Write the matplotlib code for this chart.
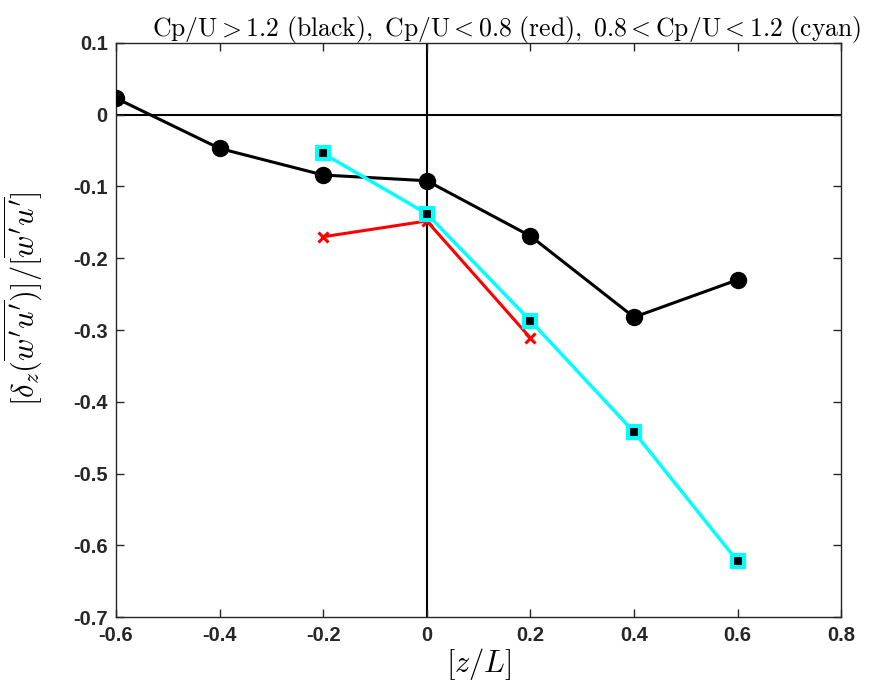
import matplotlib
matplotlib.use("Agg")
import matplotlib.pyplot as plt

plt.rcParams["mathtext.fontset"] = "cm"

# Cp/U > 1.2
z_black = [-0.6, -0.4, -0.2, 0.0, 0.2, 0.4, 0.6]
d_black = [0.023, -0.047, -0.084, -0.092, -0.169, -0.282, -0.230]

# Cp/U < 0.8
z_red = [-0.2, 0.0, 0.2]
d_red = [-0.170, -0.148, -0.311]

# 0.8 < Cp/U < 1.2
z_cyan = [-0.2, 0.0, 0.2, 0.4, 0.6]
d_cyan = [-0.054, -0.138, -0.287, -0.442, -0.622]

xticks = [-0.6, -0.4, -0.2, 0, 0.2, 0.4, 0.6, 0.8]
yticks = [-0.7, -0.6, -0.5, -0.4, -0.3, -0.2, -0.1, 0, 0.1]

fig = plt.figure(figsize=(8.79, 6.92), dpi=100)
ax = fig.add_axes([0.132, 0.108, 0.825, 0.830])

ax.axhline(0, color="black", lw=1.5, zorder=1)
ax.axvline(0, color="black", lw=1.5, zorder=1)

ax.plot(z_black, d_black, "-o", color="black", lw=2.2, ms=11.5, zorder=3)
ax.plot(z_red, d_red, "-x", color="red", lw=2.2, ms=7, mew=2.2, zorder=4)
ax.plot(z_cyan, d_cyan, "-s", color="cyan", lw=2.5, ms=8, mfc="black", mec="cyan", mew=3, zorder=5)

ax.set_xlim(-0.6, 0.8)
ax.set_ylim(-0.7, 0.1)
ax.set_xticks(xticks)
ax.set_yticks(yticks)
ax.set_xticklabels([f"{t:g}" for t in xticks])
ax.set_yticklabels([f"{t:g}" for t in yticks])
for lab in ax.get_xticklabels() + ax.get_yticklabels():
    lab.set_fontfamily("Liberation Sans")
    lab.set_fontweight("bold")
    lab.set_fontsize(14.5)
    lab.set_color("#262626")

ax.tick_params(direction="in", top=True, right=True, length=6, width=1, colors="#262626", pad=6)
for sp in ax.spines.values():
    sp.set_linewidth(1)
    sp.set_color("#262626")

ax.set_title(r"$\mathrm{Cp/U} > 1.2\ \mathrm{(black)},\ \mathrm{Cp/U} < 0.8\ \mathrm{(red)},\ 0.8 < \mathrm{Cp/U} < 1.2\ \mathrm{(cyan)}$",
             fontsize=18.5, pad=5, x=0.538)
ax.set_xlabel(r"$[z/L]$", fontsize=22, labelpad=1)
ax.set_ylabel(r"$[\delta_z(\overline{w'u'})]/[\overline{w'u'}]$", fontsize=22)
ax.yaxis.set_label_coords(-0.1, 0.555)

fig.savefig("out.png", dpi=100)
